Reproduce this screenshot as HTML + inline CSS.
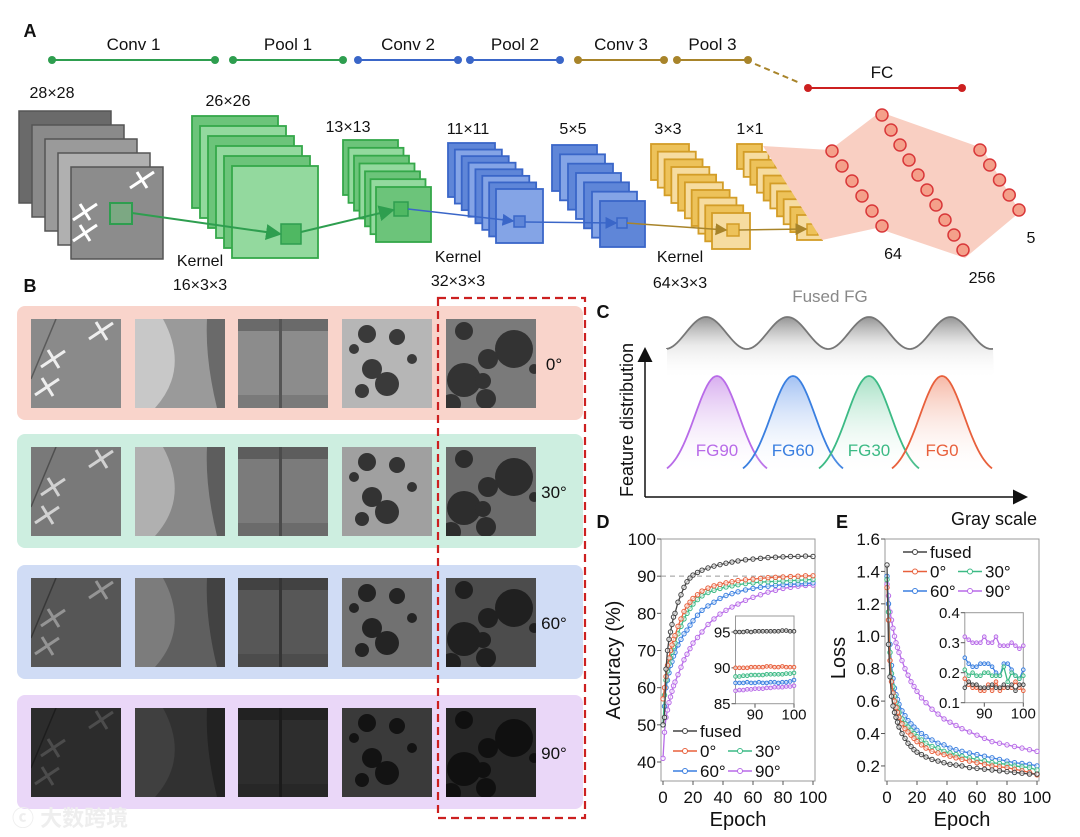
<!DOCTYPE html>
<html><head><meta charset="utf-8"><style>
html,body{margin:0;padding:0;background:#fff;}
svg{display:block;font-family:"Liberation Sans","Noto Sans CJK SC",sans-serif;}
</style></head><body>
<svg id="fig" width="1080" height="837" viewBox="0 0 1080 837" xmlns="http://www.w3.org/2000/svg">
<defs>
<linearGradient id="gfused" x1="0" y1="0" x2="0" y2="1"><stop offset="0" stop-color="#888" stop-opacity="0.9"/><stop offset="0.45" stop-color="#ddd" stop-opacity="0.6"/><stop offset="1" stop-color="#fff" stop-opacity="0"/></linearGradient>
<linearGradient id="g90" x1="0" y1="0" x2="0" y2="1"><stop offset="0" stop-color="#c78be8"/><stop offset="1" stop-color="#fff" stop-opacity="0"/></linearGradient>
<linearGradient id="g60" x1="0" y1="0" x2="0" y2="1"><stop offset="0" stop-color="#7aa6ee"/><stop offset="1" stop-color="#fff" stop-opacity="0"/></linearGradient>
<linearGradient id="g30" x1="0" y1="0" x2="0" y2="1"><stop offset="0" stop-color="#7fd3ab"/><stop offset="1" stop-color="#fff" stop-opacity="0"/></linearGradient>
<linearGradient id="g0" x1="0" y1="0" x2="0" y2="1"><stop offset="0" stop-color="#f29a80"/><stop offset="1" stop-color="#fff" stop-opacity="0"/></linearGradient>
<marker id="arrG" markerWidth="8" markerHeight="8" refX="7" refY="4" orient="auto"><path d="M0,0L8,4L0,8z" fill="#2e9e4f"/></marker>
<marker id="arrB" markerWidth="8" markerHeight="8" refX="7" refY="4" orient="auto"><path d="M0,0L8,4L0,8z" fill="#3a66c8"/></marker>
<marker id="arrY" markerWidth="8" markerHeight="8" refX="7" refY="4" orient="auto"><path d="M0,0L8,4L0,8z" fill="#a8842a"/></marker>
<marker id="arrK" markerWidth="10" markerHeight="10" refX="8" refY="5" orient="auto"><path d="M0,0L10,5L0,10z" fill="#111"/></marker>
</defs>
<g id="panelA"></g>
<g id="panelB"></g>
<g id="panelC"></g>
<g id="chartD"></g>
<g id="chartE"></g>
<text x="12" y="826" font-size="22" fill="#eeeeee" font-weight="bold">ⓒ 大数跨境</text>
</svg>
<script>
// ---------- chart data ----------
const epochs=[0,1,2,3,4,5,6,7,8,10,12,14,16,18,20,23,26,30,34,38,42,46,50,55,60,65,70,75,80,85,90,95,100];
const seriesNames=["fused","0°","30°","60°","90°"];
const accFused=[50,52,65,70,73,75,77,79,80,83,85,87,88.5,89.5,90.3,91,91.6,92.2,92.7,93.1,93.5,93.8,94.1,94.4,94.6,94.8,95,95.1,95.2,95.3,95.3,95.4,95.3];
const acc0=[57,60,63,66,68,70,71.5,73,74,76.5,78.5,80.5,82,83,84,85,86,86.8,87.4,87.8,88.2,88.5,88.8,89,89.2,89.4,89.6,89.7,89.8,89.9,90,90.1,90.1];
const acc30=[50,58,62,64.5,66.5,68,69.5,71,72,74.5,76.5,78.5,80,81.3,82.5,83.7,84.7,85.6,86.2,86.7,87.1,87.4,87.7,88,88.2,88.4,88.5,88.6,88.7,88.8,88.9,89,89.1];
const acc60=[50,55,60,62,64,66,67,68.5,69.5,71.5,73,74.5,75.5,76.8,78,79.5,80.8,82,83,84,84.8,85.3,85.8,86.3,86.7,87,87.3,87.5,87.7,87.8,87.9,88,88.2];
const acc90=[41,48,52,54,56,57.5,59,60.5,61.5,63.5,65.5,67.5,69,70.5,72,73.5,75,77,78.5,79.8,80.8,81.7,82.5,83.5,84.3,85,85.7,86.2,86.7,87,87.3,87.5,87.6];
const lossFused=[1.44,0.95,0.75,0.63,0.57,0.53,0.5,0.47,0.44,0.4,0.37,0.34,0.32,0.3,0.285,0.27,0.255,0.24,0.23,0.22,0.21,0.205,0.2,0.19,0.185,0.18,0.175,0.17,0.165,0.16,0.155,0.15,0.15];
const loss0=[1.3,1.1,0.85,0.72,0.65,0.6,0.56,0.53,0.5,0.46,0.43,0.41,0.39,0.37,0.35,0.33,0.31,0.29,0.28,0.27,0.26,0.25,0.24,0.23,0.22,0.21,0.2,0.195,0.19,0.18,0.17,0.16,0.145];
const loss30=[1.35,1.15,0.9,0.77,0.69,0.63,0.59,0.56,0.53,0.49,0.46,0.44,0.42,0.4,0.38,0.36,0.34,0.32,0.31,0.29,0.28,0.27,0.26,0.25,0.24,0.23,0.22,0.215,0.21,0.2,0.195,0.19,0.175];
const loss60=[1.37,1.2,0.95,0.82,0.74,0.68,0.64,0.61,0.58,0.54,0.51,0.48,0.46,0.44,0.42,0.4,0.38,0.36,0.34,0.33,0.31,0.3,0.29,0.28,0.27,0.26,0.25,0.24,0.23,0.22,0.215,0.21,0.2];
const loss90=[1.32,1.25,1.15,1.1,1.05,1.0,0.96,0.93,0.9,0.85,0.8,0.76,0.72,0.69,0.66,0.62,0.59,0.55,0.52,0.49,0.47,0.45,0.43,0.41,0.39,0.37,0.35,0.34,0.33,0.32,0.31,0.3,0.29];
const insetEpochs=[85,86,87,88,89,90,91,92,93,94,95,96,97,98,99,100];
const insAccFused=[95.0,95.0,95.0,95.1,95.0,95.1,95.1,95.1,95.1,95.1,95.1,95.1,95.2,95.2,95.1,95.1];
const insAcc0=[90.0,90.0,90.0,90.0,90.1,90.1,90.1,90.1,90.2,90.2,90.1,90.1,90.2,90.1,90.1,90.1];
const insAcc30=[88.8,88.8,88.9,88.9,89.0,89.0,89.0,89.0,89.1,89.1,89.1,89.1,89.1,89.2,89.2,89.3];
const insAcc60=[87.9,87.9,87.9,88.0,87.9,87.9,88.0,87.9,87.9,88.0,88.0,87.9,88.0,88.0,88.1,88.3];
const insAcc90=[86.8,86.9,86.9,87.0,87.0,87.1,87.1,87.1,87.2,87.2,87.3,87.3,87.3,87.4,87.4,87.5];
const insLossFused=[0.15,0.17,0.16,0.16,0.15,0.15,0.15,0.16,0.15,0.15,0.16,0.15,0.16,0.14,0.16,0.16];
const insLoss0=[0.18,0.16,0.15,0.15,0.14,0.14,0.16,0.14,0.17,0.14,0.15,0.15,0.15,0.17,0.15,0.14];
const insLoss30=[0.21,0.19,0.20,0.19,0.19,0.20,0.20,0.19,0.19,0.19,0.22,0.17,0.20,0.19,0.18,0.19];
const insLoss60=[0.25,0.23,0.22,0.22,0.23,0.23,0.23,0.22,0.20,0.19,0.23,0.23,0.21,0.19,0.18,0.21];
const insLoss90=[0.32,0.31,0.30,0.30,0.30,0.32,0.30,0.30,0.32,0.29,0.29,0.29,0.30,0.29,0.28,0.29];
const accTicks=[40,50,60,70,80,90,100];
const lossTicks=[0.2,0.4,0.6,0.8,1.0,1.2,1.4,1.6];
const epochTicks=[0,20,40,60,80,100];
const insAccTicks=[85,90,95];
const insLossTicks=[0.1,0.2,0.3,0.4];
const insEpochTicks=[90,100];

const NS="http://www.w3.org/2000/svg";
function mk(tag,parent,attrs){const e=document.createElementNS(NS,tag);for(const k in attrs)e.setAttribute(k,attrs[k]);parent.appendChild(e);return e;}
function tx(parent,x,y,s,size,anchor,fill,extra){const e=mk('text',parent,Object.assign({x:x,y:y,'font-size':size,'text-anchor':anchor||'middle',fill:fill||'#111'},extra||{}));e.textContent=s;return e;}

// ---------- Panel A ----------
const A=document.getElementById('panelA');
let t=tx(A,30,37,'A',18,'middle','#111',{'font-weight':'bold'});


const stages=[["Conv 1",52,215,"#2e9e4f"],["Pool 1",233,343,"#2e9e4f"],["Conv 2",358,458,"#3a66c8"],["Pool 2",470,560,"#3a66c8"],["Conv 3",578,664,"#a8842a"],["Pool 3",677,748,"#a8842a"]];
stages.forEach(s=>{
  const g=mk('g',A,{});
  
  
  mk('line',g,{x1:s[1],y1:60,x2:s[2],y2:60,stroke:s[3],'stroke-width':2});
  mk('circle',g,{cx:s[1],cy:60,r:4,fill:s[3]});mk('circle',g,{cx:s[2],cy:60,r:4,fill:s[3]});
  tx(g,(s[1]+s[2])/2,50,s[0],17);
});
let dl=mk('line',A,{x1:755,y1:64,x2:800,y2:83,stroke:'#a8842a','stroke-width':2,'stroke-dasharray':'6,4'});


const fc=mk('g',A,{});


mk('line',fc,{x1:808,y1:88,x2:962,y2:88,stroke:'#cc2020','stroke-width':2});
mk('circle',fc,{cx:808,cy:88,r:4,fill:'#cc2020'});mk('circle',fc,{cx:962,cy:88,r:4,fill:'#cc2020'});
tx(fc,882,78,'FC',17);
const inp=mk('g',A,{});


const grays=['#6a6a6a','#8a8a8a','#9a9a9a','#b0b0b0','#8c8c8c'];
for(let i=0;i<5;i++){mk('rect',inp,{x:19+i*13,y:111+i*14,width:92,height:92,fill:grays[i],stroke:'#555','stroke-width':1.5});}
[[85,233],[85,212],[142,180]].forEach(p=>{mk('path',inp,{d:`M${p[0]-12},${p[1]+8}L${p[0]+12},${p[1]-8}M${p[0]-5},${p[1]-8}L${p[0]+5},${p[1]+8}`,stroke:'#fff','stroke-width':3});});
mk('rect',inp,{x:110,y:203,width:22,height:21,fill:'#6cc47a','fill-opacity':0.5,stroke:'#2e9e4f','stroke-width':2});
tx(A,52,98,'28×28',16);
function stack(name,x0,y0,x1,y1,w,h,n,fill,fill2,stroke,label,lx,ly,dotsIdx){
  const g=mk('g',A,{});
  
  
  for(let i=0;i<n;i++){const f=n>1?i/(n-1):0;const x=x0+(x1-x0)*f,y=y0+(y1-y0)*f;
    mk('rect',g,{x:x,y:y,width:w,height:h,fill:(i%2?fill2:fill),stroke:stroke,'stroke-width':1.8});
    if(i===dotsIdx)tx(g,x+w*0.72,y+18,'···',14,'middle','#222');}
  tx(g,lx,ly,label,16);
  return g;
}
stack('feature-map-26',192,116,232,166,86,92,6,'#6cc47a','#93d99e','#35a84a','26×26',228,106,1);
stack('feature-map-13',343,140,376,187,55,55,7,'#6cc47a','#93d99e','#35a84a','13×13',348,132,1);
stack('feature-map-11',448,143,496,189,47,54,8,'#5f86d8','#84a4e6','#3a66c8','11×11',468,134,1);
stack('feature-map-5',552,145,600,201,45,46,7,'#5f86d8','#84a4e6','#3a66c8','5×5',573,134,1);
stack('feature-map-3',651,144,712,213,38,36,10,'#edc25a','#f6dca0','#d39d27','3×3',668,134,2);
stack('feature-map-1',737,144,797,215,25,25,10,'#edc25a','#f6dca0','#d39d27','1×1',750,134,2);
const ar=mk('g',A,{});


mk('rect',ar,{x:281,y:224,width:20,height:20,fill:'#4fb862',stroke:'#2e9e4f','stroke-width':1.5});
mk('rect',ar,{x:394,y:202,width:14,height:14,fill:'#4fb862',stroke:'#2e9e4f','stroke-width':1.5});
mk('rect',ar,{x:514,y:216,width:11,height:11,fill:'#5f86d8',stroke:'#3a66c8','stroke-width':1.5});
mk('rect',ar,{x:617,y:218,width:10,height:10,fill:'#5f86d8',stroke:'#3a66c8','stroke-width':1.5});
mk('rect',ar,{x:727,y:224,width:12,height:12,fill:'#edc25a',stroke:'#d39d27','stroke-width':1.5});
mk('rect',ar,{x:807,y:224,width:11,height:11,fill:'#edc25a',stroke:'#d39d27','stroke-width':1.5});
mk('line',ar,{x1:132,y1:213,x2:280,y2:234,stroke:'#2e9e4f','stroke-width':2,'marker-end':'url(#arrG)'});
mk('line',ar,{x1:301,y1:232,x2:393,y2:210,stroke:'#2e9e4f','stroke-width':2,'marker-end':'url(#arrG)'});
mk('line',ar,{x1:408,y1:209,x2:513,y2:221,stroke:'#3a66c8','stroke-width':1.5,'marker-end':'url(#arrB)'});
mk('line',ar,{x1:525,y1:222,x2:616,y2:223,stroke:'#3a66c8','stroke-width':1.5,'marker-end':'url(#arrB)'});
mk('line',ar,{x1:627,y1:223,x2:726,y2:230,stroke:'#a8842a','stroke-width':1.5,'marker-end':'url(#arrY)'});
mk('line',ar,{x1:739,y1:230,x2:806,y2:229,stroke:'#a8842a','stroke-width':1.5,'marker-end':'url(#arrY)'});
[[200,266,'Kernel'],[200,290,'16×3×3'],[458,262,'Kernel'],[458,286,'32×3×3'],[680,262,'Kernel'],[680,288,'64×3×3']].forEach(k=>tx(A,k[0],k[1],k[2],16));
const fcg=mk('g',A,{});


mk('path',fcg,{d:'M763,146L830,150L880,112L982,148L1020,212L965,258L877,228L822,240Z',fill:'#f9cfc2'});
function col(n,x0,y0,x1,y1){for(let i=0;i<n;i++){const f=i/(n-1);mk('circle',fcg,{cx:x0+(x1-x0)*f,cy:y0+(y1-y0)*f,r:6,fill:'#f4a08a',stroke:'#d9383a','stroke-width':1.5});}}
col(6,832,151,882,226);col(10,882,115,963,250);col(5,980,150,1019,210);
tx(A,893,259,'64',16);tx(A,982,283,'256',16);tx(A,1031,243,'5',16);

// ---------- Panel B ----------
const B=document.getElementById('panelB');
t=tx(B,30,292,'B',18,'middle','#111',{'font-weight':'bold'});


const rows=[["0°",306,'#f9d4cb',1],["30°",434,'#cdeee0',0.88],["60°",565,'#d0dcf5',0.62],["90°",695,'#ead7f8',0.32]];
const imgX=[31,135,238,342,446];
rows.forEach(r=>{
  const g=mk('g',B,{});
  
  
  mk('rect',g,{x:17,y:r[1],width:566,height:114,rx:8,fill:r[2]});
  const y=r[1]+13,b=r[3];
  const ig=mk('g',g,{style:`filter:brightness(${b})`});
  const im=imgX.map(x=>mk('svg',ig,{x:x,y:y,width:90,height:89,overflow:'hidden'}));
  // airplanes
  mk('rect',im[0],{x:0,y:0,width:90,height:89,fill:'#8a8a8a'});
  mk('line',im[0],{x1:25,y1:0,x2:0,y2:60,stroke:'#5a5a5a','stroke-width':1.5});
  [[22,40],[16,68],[70,12]].forEach(p=>mk('path',im[0],{d:`M${p[0]-12},${p[1]+8}L${p[0]+12},${p[1]-8}M${p[0]-5},${p[1]-9}L${p[0]+6},${p[1]+9}`,stroke:'#eee','stroke-width':3}));
  // beach
  mk('rect',im[1],{x:0,y:0,width:90,height:89,fill:'#9a9a9a'});
  mk('path',im[1],{d:'M0,0L28,0Q55,50 20,89L0,89Z',fill:'#c8c8c8'});
  mk('path',im[1],{d:'M72,0L90,0L90,89L82,89Q70,40 72,0Z',fill:'#6a6a6a'});
  // river
  mk('rect',im[2],{x:0,y:0,width:90,height:89,fill:'#8c8c8c'});
  mk('rect',im[2],{x:0,y:0,width:90,height:12,fill:'#6a6a6a'});
  mk('rect',im[2],{x:0,y:76,width:90,height:13,fill:'#7a7a7a'});
  mk('rect',im[2],{x:41,y:0,width:3,height:89,fill:'#555'});
  // trees
  mk('rect',im[3],{x:0,y:0,width:90,height:89,fill:'#b6b6b6'});
  [[25,15,9],[55,18,8],[30,50,10],[45,65,12],[20,72,7],[70,40,5],[12,30,5]].forEach(c=>mk('circle',im[3],{cx:c[0],cy:c[1],r:c[2],fill:'#3a3a3a'}));
  // circles
  mk('rect',im[4],{x:0,y:0,width:90,height:89,fill:'#7a7a7a'});
  [[68,30,19],[18,61,17],[42,40,10],[37,62,8],[40,80,10],[5,85,10],[88,50,5],[18,12,9]].forEach(c=>mk('circle',im[4],{cx:c[0],cy:c[1],r:c[2],fill:'#333'}));
  tx(g,554,r[1]+64,r[0],17);
});
let rd=mk('rect',B,{x:438,y:298,width:147,height:520,fill:'none',stroke:'#cc2020','stroke-width':2.2,'stroke-dasharray':'8,5'});



// ---------- Panel C ----------
const C=document.getElementById('panelC');
t=tx(C,603,318,'C',18,'middle','#111',{'font-weight':'bold'});


tx(C,830,302,'Fused FG',17,'middle','#888');
let fp='M667,349';
for(let x=667;x<=994;x+=2){const ph=(x-706)/81.5*2*Math.PI;fp+=` L${x},${333-16*Math.cos(ph)}`;}
mk('path',C,{d:fp+' L994,380 L667,380 Z',fill:'url(#gfused)'});
mk('path',C,{d:fp,fill:'none',stroke:'#777','stroke-width':1.8});
const fgs=[["FG90",717,'#b86be8','g90'],["FG60",793,'#3a7fe0','g60'],["FG30",869,'#3cba85','g30'],["FG0",942,'#e8603c','g0']];
fgs.forEach(f=>{
  const g=mk('g',C,{});
  
  
  let d='';for(let x=f[1]-50;x<=f[1]+50;x+=2){const v=Math.exp(-Math.pow((x-f[1])/22,2)/2);d+=(d?' L':'M')+x+','+(476-100*v);}
  mk('path',g,{d:d+` L${f[1]+50},476 L${f[1]-50},476 Z`,fill:'url(#'+f[3]+')','fill-opacity':0.7});
  mk('path',g,{d:d,fill:'none',stroke:f[2],'stroke-width':1.8});
  tx(g,f[1],456,f[0],17,'middle',f[2]);
});
mk('line',C,{x1:645,y1:497,x2:645,y2:350,stroke:'#111','stroke-width':1.5,'marker-end':'url(#arrK)'});
mk('line',C,{x1:645,y1:497,x2:1025,y2:497,stroke:'#111','stroke-width':1.5,'marker-end':'url(#arrK)'});
tx(C,633,420,'Feature distribution',18,'middle','#111',{transform:'rotate(-90 633 420)'});
tx(C,994,525,'Gray scale',18);

// ---------- Charts ----------
const colors=['#444','#e8603c','#3cba85','#3a7fe0','#b86be8'];
function drawSeries(g,xs,ys,xf,yf,col,r,name){
  const s=mk('g',g,{});
  
  
  let d='';xs.forEach((x,i)=>{d+=(i?' L':'M')+xf(x).toFixed(1)+','+yf(ys[i]).toFixed(1);});
  mk('path',s,{d:d,fill:'none',stroke:col,'stroke-width':1.3});
  xs.forEach((x,i)=>{const c=mk('circle',s,{cx:xf(x),cy:yf(ys[i]),r:r,fill:'#fff','fill-opacity':0.6,stroke:col,'stroke-width':1});
    
    });
}
function axes(g,x0,x1,y0,y1,xt,xf,yt,yf,fs,fmt,xoff){
  mk('rect',g,{x:x0,y:y0,width:x1-x0,height:y1-y0,fill:'none',stroke:'#999','stroke-width':1});
  xt.forEach(v=>{mk('line',g,{x1:xf(v),y1:y1,x2:xf(v),y2:y1+4,stroke:'#555'});tx(g,xf(v),y1+xoff,String(v),fs);});
  yt.forEach(v=>{mk('line',g,{x1:x0-4,y1:yf(v),x2:x0,y2:yf(v),stroke:'#555'});tx(g,x0-5,yf(v)+fs*0.35,fmt(v),fs,'end');});
}
function legend(g,lx,ly,dy,lx2){
  const items=[[0,lx,ly],[1,lx,ly+dy],[2,lx2,ly+dy],[3,lx,ly+2*dy],[4,lx2,ly+2*dy]];
  items.forEach(it=>{
    const e=mk('g',g,{});
    
    
    mk('line',e,{x1:it[1],y1:it[2],x2:it[1]+24,y2:it[2],stroke:colors[it[0]],'stroke-width':1.5});
    mk('circle',e,{cx:it[1]+12,cy:it[2],r:2.5,fill:'#fff',stroke:colors[it[0]]});
    tx(e,it[1]+27,it[2]+6,seriesNames[it[0]],17,'start');
  });
}
// D
const D=document.getElementById('chartD');
t=tx(D,603,528,'D',18,'middle','#111',{'font-weight':'bold'});


const xD=e=>663+e*1.5, yD=v=>539+(100-v)*223/60;
axes(D,661,815,539,781,epochTicks,xD,accTicks,yD,17,v=>String(v),22);
mk('line',D,{x1:661,y1:yD(90),x2:815,y2:yD(90),stroke:'#999','stroke-dasharray':'5,4'});
[acc90,acc60,acc30,acc0,accFused].forEach((s,k)=>drawSeries(D,epochs,s,xD,yD,colors[4-k],2.2,seriesNames[4-k].replace('°','deg')));
tx(D,738,826,'Epoch',20);
tx(D,620,660,'Accuracy (%)',20,'middle','#111',{transform:'rotate(-90 620 660)'});
legend(D,673,731,20,728);
const xDi=e=>735.5+(e-85)*3.9, yDi=v=>703.7-(v-85)*7.17;
const Di=mk('g',D,{});


mk('rect',Di,{x:735.5,y:616,width:58.5,height:87.7,fill:'#fff'});
axes(Di,735.5,794,616,703.7,insEpochTicks,xDi,insAccTicks,yDi,15,v=>String(v),16);
[insAcc90,insAcc60,insAcc30,insAcc0,insAccFused].forEach((s,k)=>drawSeries(Di,insetEpochs,s,xDi,yDi,colors[4-k],1.8,'inset-'+seriesNames[4-k].replace('°','deg')));
// E
const E=document.getElementById('chartE');
t=tx(E,842,528,'E',18,'middle','#111',{'font-weight':'bold'});


const xE=e=>887+e*1.5, yE=v=>539+(1.6-v)*162.1;
axes(E,885,1039,539,781,epochTicks,xE,lossTicks,yE,17,v=>v.toFixed(1),22);
[loss90,loss60,loss30,loss0,lossFused].forEach((s,k)=>drawSeries(E,epochs,s,xE,yE,colors[4-k],2.2,seriesNames[4-k].replace('°','deg')));
tx(E,962,826,'Epoch',20);
tx(E,845,658,'Loss',20,'middle','#111',{transform:'rotate(-90 845 658)'});
legend(E,903,552,19.5,958);
const xEi=e=>964.8+(e-85)*3.9, yEi=v=>702.7-(v-0.1)*300;
const Ei=mk('g',E,{});


mk('rect',Ei,{x:964.8,y:612.7,width:58.5,height:90,fill:'#fff'});
axes(Ei,964.8,1023.3,612.7,702.7,insEpochTicks,xEi,insLossTicks,yEi,15,v=>v.toFixed(1),16);
[insLoss90,insLoss60,insLoss30,insLoss0,insLossFused].forEach((s,k)=>drawSeries(Ei,insetEpochs,s,xEi,yEi,colors[4-k],1.8,'inset-'+seriesNames[4-k].replace('°','deg')));
</script>
</body></html>
